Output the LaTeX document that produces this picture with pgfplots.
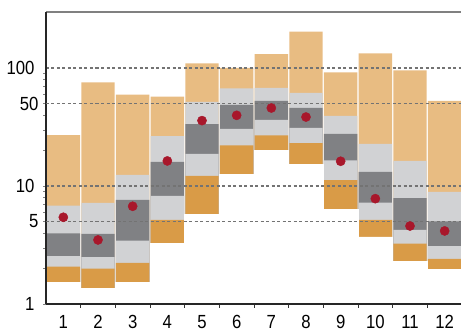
\documentclass[border=0pt]{standalone}
\usepackage{pgfplots}
\pgfplotsset{compat=1.18}
\usepackage{pgfplotstable}
\usepackage{fontspec}
\setmainfont{Liberation Sans}[FakeStretch=0.88]
\definecolor{lorange}{HTML}{E8BC82}
\definecolor{dorange}{HTML}{D99B47}
\definecolor{lgray}{HTML}{D1D2D4}
\definecolor{dgray}{HTML}{808184}
\definecolor{dotred}{HTML}{A8172B}
\pgfplotstableread{
x top lolg lgdg dglg lgdo bot dot
1 27.0 6.81 3.97 2.55 2.07 1.52 5.43
2 75.6 7.18 3.92 2.49 1.99 1.35 3.49
3 59.4 12.4 7.61 3.44 2.23 1.52 6.73
4 57.1 26.5 16.0 8.23 5.15 3.27 16.3
5 109.6 51.5 33.5 18.7 12.2 5.71 35.8
6 100 67.3 48.6 30.4 22.1 12.5 39.7
7 131 67.7 52.5 36.3 26.9 19.9 45.8
8 203 61.4 45.8 31.0 23.1 15.2 38.4
9 91.9 39.2 27.6 16.5 11.2 6.35 16.2
10 133 22.7 13.2 7.22 5.15 3.70 7.81
11 95.6 16.3 7.91 4.24 3.25 2.28 4.58
12 52.5 8.90 5.02 3.10 2.41 1.95 4.16
}\data
\begin{document}
\begin{tikzpicture}
\begin{axis}[
  name=ax,
  scale only axis,
  width=416pt, height=292pt,
  xmin=0.5, xmax=12.5,
  ymode=log, ymin=1, ymax=298,
  axis lines=left,
  axis line style={-, line width=1.3pt, black!85},
  axis on top,
  xtick={1.5,2.5,...,12.5},
  xticklabels={1,2,3,4,5,6,7,8,9,10,11,12},
  xticklabel style={xshift=-17.33pt, yshift=-4pt},
  major x tick style={black!80, line width=0.8pt},
  tick align=outside,
  major tick length=4pt,
  ytick={1,10,100},
  yticklabels={1,10,100},
  extra y ticks={5,50},
  extra y tick labels={5,50},
  major y tick style={draw=none},
  extra y tick style={major tick length=0pt, grid style={black, dash pattern=on 2.5pt off 2pt, line width=1pt}},
  ymajorgrids,
  major grid style={black!55, dash pattern=on 3pt off 2.5pt, line width=1.2pt},
  /pgf/number format/assume math mode=true,
  tick label style={font=\fontsize{19}{19}\selectfont},
  yticklabel style={xshift=-4pt},
  clip=false,
]
\addplot[ybar, bar width=0.965, bar shift=0pt, fill=lorange, draw=none] table[x=x,y=top]{\data};
\addplot[ybar, bar width=0.965, bar shift=0pt, fill=lgray, draw=none] table[x=x,y=lolg]{\data};
\addplot[ybar, bar width=0.965, bar shift=0pt, fill=dgray, draw=none] table[x=x,y=lgdg]{\data};
\addplot[ybar, bar width=0.965, bar shift=0pt, fill=lgray, draw=none] table[x=x,y=dglg]{\data};
\addplot[ybar, bar width=0.965, bar shift=0pt, fill=dorange, draw=none] table[x=x,y=lgdo]{\data};
\addplot[ybar, bar width=1.0, bar shift=0pt, fill=white, draw=white, line width=0.6pt] table[x=x,y=bot]{\data};
\addplot[only marks, mark=*, mark size=4.6pt, color=dotred] table[x=x,y=dot]{\data};
\draw[black!50, line width=1.5pt] (rel axis cs:0,1) -- (rel axis cs:1,1);
\end{axis}
\pgfresetboundingbox
\path[use as bounding box] ([shift={(-46pt,-30pt)}]ax.south west) rectangle ([shift={(-1pt,12pt)}]ax.north east);
\end{tikzpicture}
\end{document}
